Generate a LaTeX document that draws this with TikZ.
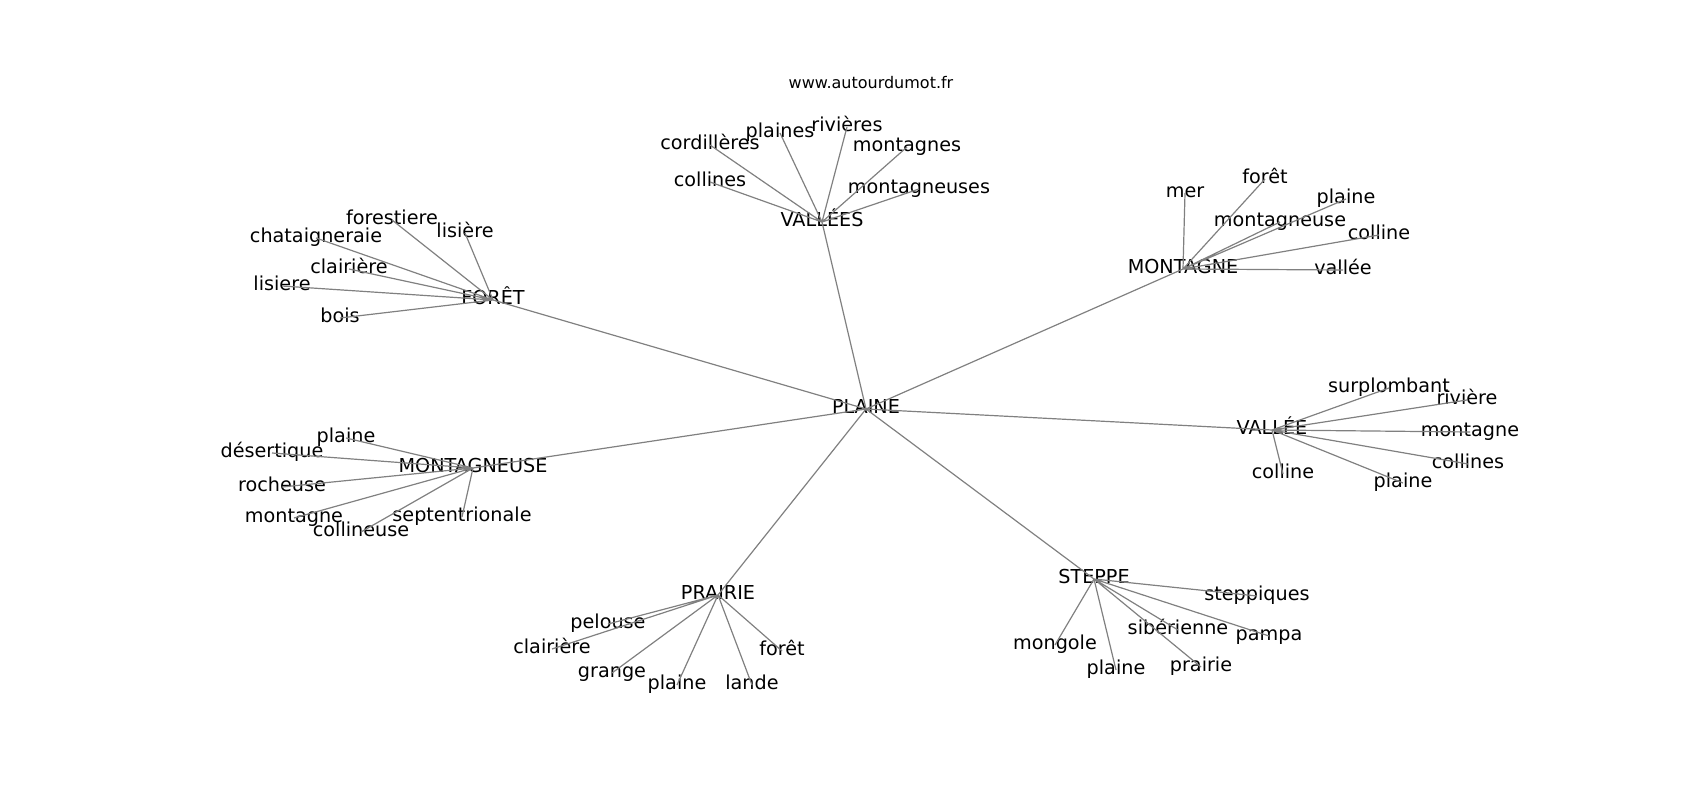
\documentclass[tikz,border=0pt]{standalone}
\usepackage{fontspec}
\setmainfont{DejaVu Sans}
\usetikzlibrary{positioning}

\begin{document}
\begin{tikzpicture}[x=1pt, y=-1pt,
  word/.style={inner sep=0pt, text height=12pt, text depth=4pt, font=\fontsize{19.2}{23}\selectfont},
  link/.style={draw=gray, line width=1.2pt}]
  \useasboundingbox (0,0) rectangle (1700,800);

  % --- Title ---
  \node[inner sep=0pt, font=\fontsize{16}{19}\selectfont] (site) at (871, 83) {www.autourdumot.fr};

  % --- Hubs ---
  \node[word] (plaine) at (866, 409) {PLAINE};
  \node[word] (vallees) at (822, 222) {VALLÉES};
  \node[word] (foret) at (493, 300) {FORÊT};
  \node[word] (montagne) at (1183, 269) {MONTAGNE};
  \node[word] (vallee) at (1272, 430) {VALLÉE};
  \node[word] (mgneuse) at (473, 468) {MONTAGNEUSE};
  \node[word] (prairie) at (718, 595) {PRAIRIE};
  \node[word] (steppe) at (1094, 579) {STEPPE};

  % Vallées
  \node[word] (vs-cord) at (710, 145) {cordillères};
  \node[word] (vs-plai) at (780, 133) {plaines};
  \node[word] (vs-riv) at (847, 127) {rivières};
  \node[word] (vs-mont) at (907, 147) {montagnes};
  \node[word] (vs-coll) at (710, 182) {collines};
  \node[word] (vs-mgns) at (919, 189) {montagneuses};

  % Forêt
  \node[word] (fo-fores) at (392, 220) {forestiere};
  \node[word] (fo-lis) at (465, 233) {lisière};
  \node[word] (fo-chat) at (316, 238) {chataigneraie};
  \node[word] (fo-clai) at (349, 269) {clairière};
  \node[word] (fo-lisi) at (282, 286) {lisiere};
  \node[word] (fo-bois) at (340, 318) {bois};

  % Montagne
  \node[word] (mo-mer) at (1185, 193) {mer};
  \node[word] (mo-foret) at (1265, 179) {forêt};
  \node[word] (mo-plaine) at (1346, 199) {plaine};
  \node[word] (mo-mgse) at (1280, 222) {montagneuse};
  \node[word] (mo-coll) at (1379, 235) {colline};
  \node[word] (mo-vallee) at (1343, 270) {vallée};

  % Vallée
  \node[word] (ve-surp) at (1389, 388) {surplombant};
  \node[word] (ve-riv) at (1467, 400) {rivière};
  \node[word] (ve-mont) at (1470, 432) {montagne};
  \node[word] (ve-colls) at (1468, 464) {collines};
  \node[word] (ve-coll) at (1283, 474) {colline};
  \node[word] (ve-plaine) at (1403, 483) {plaine};

  % Montagneuse
  \node[word] (mg-plaine) at (346, 438) {plaine};
  \node[word] (mg-des) at (272, 453) {désertique};
  \node[word] (mg-roch) at (282, 487) {rocheuse};
  \node[word] (mg-mont) at (294, 518) {montagne};
  \node[word] (mg-coll) at (361, 532) {collineuse};
  \node[word] (mg-sept) at (462, 517) {septentrionale};

  % Prairie
  \node[word] (pr-pel) at (608, 624) {pelouse};
  \node[word] (pr-clai) at (552, 649) {clairière};
  \node[word] (pr-gran) at (612, 673) {grange};
  \node[word] (pr-plaine) at (677, 685) {plaine};
  \node[word] (pr-lande) at (752, 685) {lande};
  \node[word] (pr-foret) at (782, 651) {forêt};

  % Steppe
  \node[word] (st-stepp) at (1257, 596) {steppiques};
  \node[word] (st-sib) at (1178, 630) {sibérienne};
  \node[word] (st-pampa) at (1269, 636) {pampa};
  \node[word] (st-mong) at (1055, 645) {mongole};
  \node[word] (st-plaine) at (1116, 670) {plaine};
  \node[word] (st-prairie) at (1201, 667) {prairie};

  % --- Links ---
  \draw[link] (plaine.center) -- (vallees.center)
    (plaine.center) -- (foret.center)
    (plaine.center) -- (montagne.center)
    (plaine.center) -- (vallee.center)
    (plaine.center) -- (mgneuse.center)
    (plaine.center) -- (prairie.center)
    (plaine.center) -- (steppe.center);

  \draw[link] (vallees.center) -- (vs-cord.center)
    (vallees.center) -- (vs-plai.center)
    (vallees.center) -- (vs-riv.center)
    (vallees.center) -- (vs-mont.center)
    (vallees.center) -- (vs-coll.center)
    (vallees.center) -- (vs-mgns.center);

  \draw[link] (foret.center) -- (fo-fores.center)
    (foret.center) -- (fo-lis.center)
    (foret.center) -- (fo-chat.center)
    (foret.center) -- (fo-clai.center)
    (foret.center) -- (fo-lisi.center)
    (foret.center) -- (fo-bois.center);

  \draw[link] (montagne.center) -- (mo-mer.center)
    (montagne.center) -- (mo-foret.center)
    (montagne.center) -- (mo-plaine.center)
    (montagne.center) -- (mo-mgse.center)
    (montagne.center) -- (mo-coll.center)
    (montagne.center) -- (mo-vallee.center);

  \draw[link] (vallee.center) -- (ve-surp.center)
    (vallee.center) -- (ve-riv.center)
    (vallee.center) -- (ve-mont.center)
    (vallee.center) -- (ve-colls.center)
    (vallee.center) -- (ve-coll.center)
    (vallee.center) -- (ve-plaine.center);

  \draw[link] (mgneuse.center) -- (mg-plaine.center)
    (mgneuse.center) -- (mg-des.center)
    (mgneuse.center) -- (mg-roch.center)
    (mgneuse.center) -- (mg-mont.center)
    (mgneuse.center) -- (mg-coll.center)
    (mgneuse.center) -- (mg-sept.center);

  \draw[link] (prairie.center) -- (pr-pel.center)
    (prairie.center) -- (pr-clai.center)
    (prairie.center) -- (pr-gran.center)
    (prairie.center) -- (pr-plaine.center)
    (prairie.center) -- (pr-lande.center)
    (prairie.center) -- (pr-foret.center);

  \draw[link] (steppe.center) -- (st-stepp.center)
    (steppe.center) -- (st-sib.center)
    (steppe.center) -- (st-pampa.center)
    (steppe.center) -- (st-mong.center)
    (steppe.center) -- (st-plaine.center)
    (steppe.center) -- (st-prairie.center);

\end{tikzpicture}
\end{document}
